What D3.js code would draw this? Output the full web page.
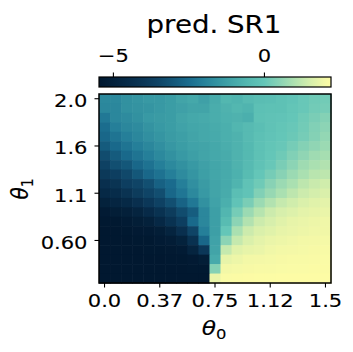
<!DOCTYPE html>
<html>
<head>
<meta charset="utf-8">
<script src="https://cdn.jsdelivr.net/npm/d3@7"></script>
<style>
  html, body { margin: 0; padding: 0; background: #fff; }
  svg text { font-family: "DejaVu Sans", sans-serif; fill: #000; stroke: #000; stroke-width: 0.12px; }
</style>
</head>
<body>
<div id="chart"></div>
<script>
// ---- data ----
const theta0 = [0.0, 0.075, 0.15, 0.225, 0.3, 0.375, 0.45, 0.525, 0.6, 0.675, 0.75,
                0.825, 0.9, 0.975, 1.05, 1.125, 1.2, 1.275, 1.35, 1.425, 1.5];
const xTickValues = [0.0, 0.375, 0.75, 1.125, 1.5];
const xTickLabels = ["0.0", "0.37", "0.75", "1.12", "1.5"];
const rowIndex = [0, 1, 2, 3, 4, 5, 6, 7, 8, 9, 10, 11, 12, 13, 14, 15, 16, 17, 18, 19];
const yTickRows = [0, 5, 10, 15];
const yTickLabels = ["2.0", "1.6", "1.1", "0.60"];
const cbTickValues = [-5, 0];
const cbTickLabels = ["\u22125", "0"];
const valueMin = -5.46, valueMax = 2.22;

// predicted SR1, rows top (theta1 = 2.0) to bottom
const predSR1 = [
  [-1.8,-1.8,-1.6,-1.5,-1.4,-1.4,-1.3,-1.1,-1.0,-1.2,-0.9,-0.55,-0.65,-0.45,-0.35,-0.3,-0.2,-0.1,0.05,0.15,0.2],
  [-1.85,-1.85,-1.6,-1.55,-1.5,-1.4,-1.3,-1.2,-1.1,-1.1,-0.85,-0.7,-0.55,-0.65,-0.25,-0.2,-0.2,-0.05,0.05,0.2,0.25],
  [-2.2,-1.85,-1.75,-1.6,-1.4,-1.35,-1.3,-1.1,-1.0,-0.95,-0.85,-0.75,-0.7,-0.8,-0.2,-0.15,-0.1,0.0,0.15,0.3,0.45],
  [-2.45,-2.05,-1.85,-1.75,-1.55,-1.4,-1.3,-1.15,-1.05,-1.0,-0.9,-0.8,-0.6,-0.45,-0.3,-0.15,-0.05,0.05,0.2,0.4,0.55],
  [-2.6,-2.3,-2.05,-1.85,-1.65,-1.5,-1.35,-1.25,-1.1,-1.0,-0.95,-0.8,-0.7,-0.45,-0.25,-0.1,0.0,0.1,0.25,0.45,0.65],
  [-2.9,-2.55,-2.3,-2.05,-1.85,-1.65,-1.45,-1.3,-1.15,-1.1,-1.0,-0.85,-0.7,-0.5,-0.2,-0.05,0.05,0.25,0.45,0.6,0.75],
  [-3.3,-2.9,-2.55,-2.3,-2.05,-1.8,-1.6,-1.4,-1.25,-1.1,-1.0,-0.9,-0.7,-0.5,-0.2,0.0,0.15,0.4,0.6,0.8,0.9],
  [-3.6,-3.2,-3.0,-2.6,-2.35,-2.05,-1.8,-1.6,-1.4,-1.2,-1.05,-0.95,-0.7,-0.45,-0.15,0.05,0.3,0.55,0.8,0.95,1.05],
  [-3.9,-3.7,-3.4,-3.0,-2.6,-2.35,-2.05,-1.75,-1.5,-1.25,-1.05,-0.95,-0.75,-0.4,0.0,0.25,0.5,0.75,0.95,1.15,1.2],
  [-4.3,-4.1,-3.7,-3.5,-3.2,-2.75,-2.5,-2.05,-1.65,-1.35,-1.1,-0.95,-0.65,-0.15,0.15,0.5,0.75,0.95,1.2,1.35,1.45],
  [-4.6,-4.45,-4.15,-3.8,-3.5,-3.25,-2.6,-2.25,-1.8,-1.4,-1.1,-0.9,-0.3,-0.1,0.4,0.7,0.95,1.2,1.4,1.5,1.6],
  [-4.95,-4.8,-4.6,-4.3,-3.95,-3.6,-3.2,-2.7,-2.2,-1.6,-1.15,-0.8,-0.1,0.3,0.75,1.05,1.3,1.45,1.6,1.7,1.75],
  [-5.3,-5.15,-5.05,-4.85,-4.55,-4.2,-3.8,-3.3,-2.85,-1.85,-1.25,-0.6,0.25,0.75,1.1,1.4,1.55,1.65,1.75,1.8,1.85],
  [-5.4,-5.4,-5.3,-5.15,-5.0,-4.65,-4.2,-3.7,-2.55,-1.85,-1.25,-0.4,0.55,1.05,1.4,1.55,1.7,1.8,1.85,1.9,1.95],
  [-5.45,-5.45,-5.4,-5.35,-5.3,-5.15,-4.85,-4.3,-3.5,-2.05,-1.25,0.0,0.95,1.4,1.6,1.7,1.8,1.85,1.9,1.95,1.97],
  [-5.45,-5.45,-5.45,-5.4,-5.4,-5.3,-5.2,-4.95,-4.25,-2.6,-1.15,0.55,1.3,1.6,1.75,1.85,1.9,1.95,2.0,2.02,2.05],
  [-5.46,-5.46,-5.45,-5.45,-5.42,-5.4,-5.38,-5.3,-4.85,-3.95,-1.1,1.3,1.7,1.8,1.85,1.95,2.0,2.02,2.05,2.08,2.1],
  [-5.46,-5.46,-5.46,-5.45,-5.45,-5.44,-5.42,-5.4,-5.35,-5.15,-0.95,1.8,1.9,2.0,2.02,2.05,2.08,2.1,2.12,2.13,2.15],
  [-5.46,-5.46,-5.46,-5.46,-5.46,-5.45,-5.45,-5.44,-5.43,-5.4,0.45,2.0,2.05,2.08,2.1,2.12,2.14,2.15,2.16,2.17,2.18],
  [-5.46,-5.46,-5.46,-5.46,-5.46,-5.46,-5.46,-5.46,-5.45,-5.45,1.85,2.15,2.18,2.19,2.2,2.2,2.21,2.21,2.22,2.22,2.22]
];

// colormap stops (value -> colour)
const cmapValues = [-5.46,-5.0,-4.5,-4.0,-3.5,-3.0,-2.5,-2.0,-1.5,-1.0,-0.5,0.0,0.5,1.0,1.5,2.0,2.22];
const cmapColors = ["#011830","#04213b","#072b49","#0b3656","#0f4466","#145779","#1a6b8d","#26819a",
                    "#3595a2","#45a8aa","#55b9b1","#64c6b8","#88d2b5","#aee1b0","#d4eeac","#f3f8a7","#fdfca5"];

// ---- layout ----
const W = 353, H = 352;
const SX = 1.17;            // horizontal text stretch seen in the reference
const FS = 18;              // tick label font size
const heat = {x0: 99, x1: 331, y0: 94, y1: 283};
const cb = {x0: 99, x1: 331, y0: 77, y1: 87};

const color = d3.scaleLinear().domain(cmapValues).range(cmapColors)
  .interpolate(d3.interpolateRgb).clamp(true);

const svg = d3.select("#chart").append("svg")
  .attr("width", W).attr("height", H);

const x = d3.scaleBand().domain(theta0).range([heat.x0, heat.x1]).padding(0);
const y = d3.scaleBand().domain(rowIndex).range([heat.y0, heat.y1]).padding(0);

// heatmap cells
const cells = [];
predSR1.forEach((row, r) => row.forEach((v, c) => cells.push({r, c, v})));
svg.append("g").selectAll("rect").data(cells).join("rect")
  .attr("x", d => x(theta0[d.c]))
  .attr("y", d => y(rowIndex[d.r]))
  .attr("width", x.bandwidth() + 0.6)
  .attr("height", y.bandwidth() + 0.6)
  .attr("fill", d => color(d.v));

svg.append("rect")
  .attr("x", heat.x0).attr("y", heat.y0)
  .attr("width", heat.x1 - heat.x0).attr("height", heat.y1 - heat.y0)
  .attr("fill", "none").attr("stroke", "#000").attr("stroke-width", 1.5);

// x axis
const xAxis = d3.axisBottom(x).tickValues(xTickValues)
  .tickFormat((d, i) => xTickLabels[i]).tickSize(4.5);
const gx = svg.append("g").attr("transform", `translate(0,${heat.y1})`).call(xAxis);
gx.select(".domain").remove();
gx.selectAll(".tick line").attr("stroke", "#000").attr("stroke-width", 1.1);
gx.selectAll(".tick text").style("font-size", FS + "px")
  .attr("y", 24).attr("dy", null)
  .attr("transform", `scale(${SX},1)`);

// y axis
const yAxis = d3.axisLeft(y).tickValues(yTickRows)
  .tickFormat((d, i) => yTickLabels[i]).tickSize(4.5);
const gy = svg.append("g").attr("transform", `translate(${heat.x0},0)`).call(yAxis);
gy.select(".domain").remove();
gy.selectAll(".tick line").attr("stroke", "#000").attr("stroke-width", 1.1);
gy.selectAll(".tick text").style("font-size", FS + "px")
  .attr("x", -11.5 / SX).attr("y", 8.5).attr("dy", null)
  .attr("transform", `scale(${SX},1)`);

// axis labels
const xl = svg.append("text").attr("transform", `translate(214,335) scale(${SX},1)`)
  .attr("text-anchor", "middle").style("font-size", "20px");
xl.append("tspan").text("\u03b8").style("font-style", "italic");
xl.append("tspan").text("0").style("font-size", "14px").attr("dy", 4);

const yl = svg.append("text").attr("transform", `translate(28,189) scale(${SX},1) rotate(-90)`)
  .attr("text-anchor", "middle").style("font-size", "20px");
yl.append("tspan").text("\u03b8").style("font-style", "italic");
yl.append("tspan").text("1").style("font-size", "14px").attr("dy", 4);

// colorbar
const grad = svg.append("defs").append("linearGradient").attr("id", "cbgrad")
  .attr("x1", "0%").attr("x2", "100%").attr("y1", "0%").attr("y2", "0%");
cmapValues.forEach((v, i) => {
  grad.append("stop")
    .attr("offset", ((v - valueMin) / (valueMax - valueMin) * 100) + "%")
    .attr("stop-color", cmapColors[i]);
});
svg.append("rect").attr("x", cb.x0).attr("y", cb.y0)
  .attr("width", cb.x1 - cb.x0).attr("height", cb.y1 - cb.y0)
  .attr("fill", "url(#cbgrad)").attr("stroke", "#000").attr("stroke-width", 1.2);

const cbScale = d3.scaleLinear().domain([valueMin, valueMax]).range([cb.x0, cb.x1]);
const cbAxis = d3.axisTop(cbScale).tickValues(cbTickValues)
  .tickFormat((d, i) => cbTickLabels[i]).tickSize(4.5);
const gc = svg.append("g").attr("transform", `translate(0,${cb.y0})`).call(cbAxis);
gc.select(".domain").remove();
gc.selectAll(".tick line").attr("stroke", "#000").attr("stroke-width", 1.1);
gc.selectAll(".tick text").style("font-size", FS + "px")
  .attr("y", -15.3).attr("dy", null)
  .attr("transform", `scale(${SX},1)`);

// title
svg.append("text").attr("transform", `translate(214,32.5) scale(1.13,1)`)
  .attr("text-anchor", "middle")
  .style("font-size", "24.5px").text("pred. SR1");
</script>
</body>
</html>
